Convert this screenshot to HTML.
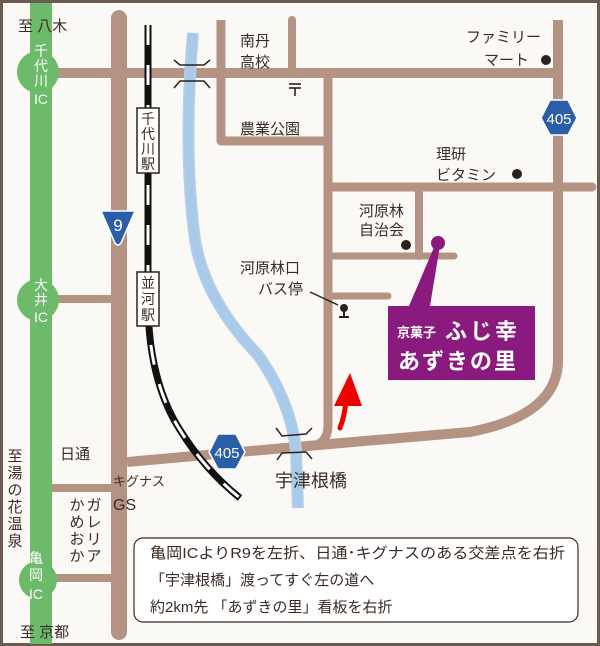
<!DOCTYPE html>
<html><head><meta charset="utf-8"><style>
html,body{margin:0;padding:0;background:#fff}
svg{display:block}
text{font-family:"Liberation Sans","Noto Sans CJK JP",sans-serif;fill:#3a2c25}
</style></head><body>
<svg width="600" height="646" viewBox="0 0 600 646" xmlns="http://www.w3.org/2000/svg">
<rect x="1.5" y="1.5" width="597" height="643" fill="#fbf9f6" stroke="#6b5a50" stroke-width="3"/>
<rect x="30" y="3" width="22" height="641" fill="#6cba6a"/>
<g fill="none" stroke="#b59383" stroke-linecap="round" stroke-linejoin="round">
  <line x1="119" y1="18" x2="119" y2="632" stroke-width="16"/>
  <line x1="52" y1="73" x2="558" y2="73" stroke-width="10" stroke-linecap="butt"/>
  <path d="M558 20 L558 360 Q558 415 470 432 L330 444 L127 462" stroke-width="10" stroke-linecap="butt"/>
  <path d="M221 20 L221 141 L328 141" stroke-width="9" stroke-linecap="butt"/>
  <line x1="292" y1="20" x2="292" y2="73" stroke-width="8"/>
  <path d="M328 73 L328 425 Q328 440 318 444" stroke-width="9" stroke-linecap="butt"/>
  <line x1="328" y1="187" x2="592" y2="187" stroke-width="9"/>
  <line x1="419" y1="187" x2="419" y2="256" stroke-width="8"/>
  <line x1="328" y1="256" x2="454" y2="256" stroke-width="7"/>
  <line x1="328" y1="296" x2="388" y2="296" stroke-width="7"/>
  <line x1="52" y1="299" x2="119" y2="299" stroke-width="8" stroke-linecap="butt"/>
  <line x1="52" y1="488" x2="119" y2="488" stroke-width="8" stroke-linecap="butt"/>
  <line x1="52" y1="578" x2="119" y2="578" stroke-width="8" stroke-linecap="butt"/>
</g>
<!-- river -->
<path d="M193 33 Q183 150 195 240 Q205 300 258 355 Q290 400 296 450 L298 508" fill="none" stroke="#b9cfe3" stroke-width="12"/>
<path d="M193 33 Q183 150 195 240 Q205 300 258 355 Q290 400 296 450 L298 508" fill="none" stroke="#a8cbec" stroke-width="9"/>
<!-- railway -->
<path d="M148 25 L148 300 Q148 380 180 430 Q205 470 240 498" fill="none" stroke="#111" stroke-width="7"/>
<path d="M148 25 L148 300 Q148 380 180 430 Q205 470 240 498" fill="none" stroke="#fff" stroke-width="3" stroke-dasharray="20 20"/>
<g fill="none" stroke="#2c211c" stroke-width="1.5">
  <path d="M174 60 L180 65 L204 65 L210 60"/><path d="M174 88 L180 81 L204 81 L210 88"/>
  <path d="M276 428 L282 436 L306 434 L312 428"/><path d="M277 460 L282 453 L306 452 L312 459"/>
</g>
<rect x="137" y="108" width="22" height="65" fill="#fff" stroke="#2c211c" stroke-width="1.5"/>
<text x="148" y="124" font-size="14" text-anchor="middle">千</text>
<text x="148" y="139" font-size="14" text-anchor="middle">代</text>
<text x="148" y="154" font-size="14" text-anchor="middle">川</text>
<text x="148" y="169" font-size="14" text-anchor="middle">駅</text>
<rect x="137" y="272" width="22" height="54" fill="#fff" stroke="#2c211c" stroke-width="1.5"/>
<text x="148" y="288" font-size="14" text-anchor="middle">並</text>
<text x="148" y="304" font-size="14" text-anchor="middle">河</text>
<text x="148" y="320" font-size="14" text-anchor="middle">駅</text>
<g fill="#6cba6a"><circle cx="38" cy="72" r="21"/><circle cx="38" cy="300" r="21"/><circle cx="38" cy="580" r="19"/></g>
<g font-size="14" text-anchor="middle">
<text x="41" y="56" style="fill:#fff">千</text><text x="41" y="71" style="fill:#fff">代</text><text x="41" y="86" style="fill:#fff">川</text><text x="41" y="104" style="fill:#fff">IC</text>
<text x="41" y="290" style="fill:#fff">大</text><text x="41" y="305" style="fill:#fff">井</text><text x="41" y="322" style="fill:#fff">IC</text>
<text x="36" y="563" style="fill:#fff">亀</text><text x="36" y="580" style="fill:#fff">岡</text><text x="36" y="599" style="fill:#fff">IC</text>
</g>
<path d="M101 211 L135 211 L121 243 Q118 247 115 243 Z" fill="#2a5ea8" stroke="#fff" stroke-width="1.5"/>
<text x="118" y="231" font-size="17" text-anchor="middle" style="fill:#fff">9</text>
<path d="M541 118 L550 100 L568 100 L577 118 L568 135 L550 135 Z" fill="#2a5ea8" stroke="#fff" stroke-width="1.5"/>
<text x="559" y="124" font-size="15" text-anchor="middle" style="fill:#fff">405</text>
<path d="M209 452 L218 434 L236 434 L245 452 L236 469 L218 469 Z" fill="#2a5ea8" stroke="#fff" stroke-width="1.5"/>
<text x="227" y="458" font-size="15" text-anchor="middle" style="fill:#fff">405</text>
<g fill="#2c211c">
<circle cx="546" cy="60" r="5"/><circle cx="517" cy="174" r="5"/><circle cx="406" cy="245" r="5"/>
<circle cx="344" cy="308" r="4"/><rect x="343" y="308" width="2" height="8"/><rect x="339" y="316" width="10" height="2"/>
</g>
<line x1="310" y1="292" x2="338" y2="305" stroke="#2c211c" stroke-width="1.5"/>
<g stroke="#2c211c" stroke-width="1.6"><line x1="289" y1="84" x2="301" y2="84"/><line x1="289" y1="88" x2="301" y2="88"/><line x1="295" y1="88" x2="295" y2="96"/></g>
<circle cx="438" cy="243" r="7" fill="#8b1a7e"/>
<path d="M435 245 L409 306 L430 306 L440 245 Z" fill="#8b1a7e"/>
<rect x="388" y="306" width="147" height="74" fill="#8b1a7e"/>
<text x="397" y="337" font-size="13" font-weight="bold" style="fill:#fff">京菓子</text>
<text x="445" y="339" font-size="22" font-weight="bold" letter-spacing="3" style="fill:#fff">ふじ幸</text>
<text x="398" y="369" font-size="22" font-weight="bold" letter-spacing="2" style="fill:#fff">あずきの里</text>
<path d="M340 428 Q345 415 346 400" fill="none" stroke="#e00" stroke-width="5" stroke-linecap="round"/>
<path d="M350 373 L334 406 L362 406 Z" fill="#e00"/>
<g font-size="15">
<text x="18" y="31">至 八木</text>
<text x="240" y="46">南丹</text><text x="240" y="67">高校</text>
<text x="240" y="134">農業公園</text>
<text x="466" y="42">ファミリー</text><text x="484" y="65">マート</text>
<text x="436" y="159">理研</text><text x="436" y="180">ビタミン</text>
<text x="359" y="216">河原林</text><text x="359" y="235">自治会</text>
<text x="240" y="273">河原林口</text><text x="258" y="294">バス停</text>
<text x="60" y="459">日通</text>
<text x="113" y="486" font-size="13">キグナス</text>
<text x="113" y="510" font-size="16">GS</text>
<text x="275" y="487" font-size="18">宇津根橋</text>
<text x="20" y="637">至 京都</text>
</g>
<g font-size="15" text-anchor="middle">
<text x="15" y="461">至</text><text x="15" y="478">湯</text><text x="15" y="495">の</text><text x="15" y="512">花</text><text x="15" y="529">温</text><text x="15" y="546">泉</text>
<text x="94" y="510">ガ</text><text x="94" y="527">レ</text><text x="94" y="544">リ</text><text x="94" y="561">ア</text>
<text x="77" y="510">か</text><text x="77" y="527">め</text><text x="77" y="544">お</text><text x="77" y="561">か</text>
</g>
<rect x="134" y="538" width="444" height="84" rx="9" fill="#fff" stroke="#3a2c25" stroke-width="1.2"/>
<g font-size="15">
<text x="150" y="558" textLength="415" lengthAdjust="spacingAndGlyphs">亀岡ICよりR9を左折、日通･キグナスのある交差点を右折</text>
<text x="150" y="585">「宇津根橋」渡ってすぐ左の道へ</text>
<text x="150" y="612">約2km先 「あずきの里」看板を右折</text>
</g>
</svg>
</body></html>
